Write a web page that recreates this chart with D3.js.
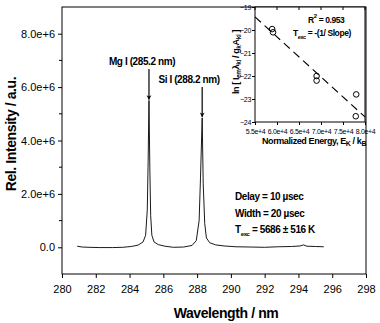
<!DOCTYPE html>
<html>
<head>
<meta charset="utf-8">
<script src="https://cdn.jsdelivr.net/npm/d3@7"></script>
<style>
  body { margin: 0; background: #fff; }
  svg { font-family: "Liberation Sans", Arial, sans-serif; }
  .lbl { font-weight: bold; letter-spacing: -0.4px; }
</style>
</head>
<body>
<svg id="chart" width="380" height="323"></svg>
<script>
// spectrum (wavelength nm, rel. intensity)
var waveNm = [280.9, 281.2, 281.6, 282.2, 283.0, 283.6, 284.1, 284.5, 284.8, 284.95, 285.05, 285.1, 285.15,
  285.2, 285.25, 285.32, 285.45, 285.7, 286.1, 286.6, 287.2, 287.7, 287.95, 288.12, 288.2, 288.3,
  288.36, 288.45, 288.55, 288.75, 289.1, 289.6, 290.3, 291.2, 292.0, 292.8, 293.6, 294.1, 294.3,
  294.5, 295.0, 295.5];
var intensity = [0.04e6, 0.01e6, 0.0, -0.01e6, -0.01e6, 0.0, 0.03e6, 0.08e6, 0.2e6, 0.45e6, 1.4e6, 3.2e6, 5.5e6,
  3.0e6, 1.2e6, 0.45e6, 0.2e6, 0.1e6, 0.04e6, 0.0, 0.01e6, 0.07e6, 0.25e6, 1.0e6, 2.6e6, 4.85e6,
  2.4e6, 0.9e6, 0.35e6, 0.17e6, 0.09e6, 0.05e6, 0.02e6, 0.01e6, 0.0, 0.02e6, 0.03e6, 0.05e6, 0.09e6,
  0.04e6, 0.03e6, 0.02e6];

var xTicks = [280, 282, 284, 286, 288, 290, 292, 294, 296, 298];
var yTicks = [0, 2e6, 4e6, 6e6, 8e6];
var yMinor = [1e6, 3e6, 5e6, 7e6];

// peak labels
var peakNames = ["Mg I (285.2 nm)", "Si I (288.2 nm)"];
var peakWave = [285.15, 288.3];
var peakTop = [5.5e6, 4.85e6];

// inset: Boltzmann plot
var energyK = [5.89e4, 5.91e4, 6.9e4, 6.9e4, 7.8e4, 7.79e4];
var lnRatio = [-19.96, -20.1, -22.0, -22.2, -22.8, -23.75];
var fitEnergy = [5.5e4, 8.0e4];
var fitLn = [-19.43, -23.78];
var insetXTicks = [5.5e4, 6.0e4, 6.5e4, 7.0e4, 7.5e4, 8.0e4];
var insetYTicks = [-24, -23, -22, -21, -20, -19];

var svg = d3.select("#chart");

var x = d3.scaleLinear().domain([280, 298]).range([62, 366]);
var y = d3.scaleLinear().domain([-1e6, 9e6]).range([274, 7]);

// frame
svg.append("rect")
  .attr("x", 62).attr("y", 7)
  .attr("width", 304).attr("height", 267)
  .attr("fill", "none").attr("stroke", "#000").attr("stroke-width", 1);

// x axis
var xAxis = svg.append("g")
  .attr("transform", "translate(0,274)")
  .call(d3.axisBottom(x).tickValues(xTicks).tickSize(4).tickSizeOuter(0).tickFormat(d3.format("d")));
xAxis.select(".domain").remove();
xAxis.selectAll("text").attr("font-size", 11).attr("dy", "1.1em").attr("font-family", "Liberation Sans");

// y axis
var yAxis = svg.append("g")
  .attr("transform", "translate(62,0)")
  .call(d3.axisLeft(y).tickValues(yTicks).tickSize(4).tickSizeOuter(0)
    .tickFormat(function (d) { return d === 0 ? "0.0" : d3.format(".1e")(d); }));
yAxis.select(".domain").remove();
yAxis.selectAll("text").attr("font-size", 11).attr("x", -7).attr("font-family", "Liberation Sans");

svg.append("g").selectAll("line")
  .data(yMinor)
  .enter()
  .append("line")
  .attr("x1", 59).attr("x2", 62)
  .attr("y1", function (d) { return y(d); })
  .attr("y2", function (d) { return y(d); })
  .attr("stroke", "#000");

// spectrum
var spec = waveNm.map(function (w, i) { return [w, intensity[i]]; });
svg.append("path")
  .datum(spec)
  .attr("fill", "none")
  .attr("stroke", "#000")
  .attr("stroke-width", 0.9)
  .attr("d", d3.line().x(function (d) { return x(d[0]); }).y(function (d) { return y(d[1]); }));

// arrows + peak labels
var defs = svg.append("defs");
defs.append("marker")
  .attr("id", "arr")
  .attr("viewBox", "0 0 10 10")
  .attr("refX", 9).attr("refY", 5)
  .attr("markerWidth", 4).attr("markerHeight", 5)
  .attr("orient", "auto")
  .append("path").attr("d", "M0,0 L10,5 L0,10 L3,5 Z").attr("fill", "#000");

var labelY = [66, 84];
peakNames.forEach(function (name, i) {
  var px = x(peakWave[i]);
  svg.append("line")
    .attr("x1", px).attr("x2", px)
    .attr("y1", labelY[i] + 3).attr("y2", y(peakTop[i]) - 1)
    .attr("stroke", "#000").attr("stroke-width", 1.2)
    .attr("marker-end", "url(#arr)");
  svg.append("text")
    .attr("class", "lbl")
    .attr("x", i == 0 ? 142 : 189)
    .attr("y", labelY[i] - 1)
    .attr("text-anchor", "middle")
    .attr("font-size", 10)
    .text(name);
});

// conditions text
var cond = svg.append("g").attr("class", "lbl").attr("font-size", 10);
cond.append("text").attr("x", 235).attr("y", 200).text("Delay = 10 \u00b5sec");
cond.append("text").attr("x", 235).attr("y", 217).text("Width = 20 \u00b5sec");
var tx = cond.append("text").attr("x", 235).attr("y", 233);
tx.append("tspan").text("T");
tx.append("tspan").attr("font-size", 6).attr("dy", 3).text("exc");
tx.append("tspan").attr("dy", -3).text(" = 5686 \u00b1 516 K");

// axis titles
svg.append("text")
  .attr("class", "lbl")
  .attr("transform", "translate(16,134) rotate(-90)")
  .attr("text-anchor", "middle")
  .attr("font-size", 14)
  .text("Rel. Intensity / a.u.");
svg.append("text")
  .attr("class", "lbl")
  .attr("x", 226).attr("y", 318)
  .attr("text-anchor", "middle")
  .attr("font-size", 14)
  .text("Wavelength / nm");

// ---------- inset ----------
var ix = d3.scaleLinear().domain([5.5e4, 8.0e4]).range([255, 365]);
var iy = d3.scaleLinear().domain([-24, -19]).range([122, 7]);

svg.append("rect")
  .attr("x", 255).attr("y", 7)
  .attr("width", 110).attr("height", 115)
  .attr("fill", "#fff").attr("stroke", "#000").attr("stroke-width", 1);

var ixAxis = svg.append("g")
  .attr("transform", "translate(0,122)")
  .call(d3.axisBottom(ix).tickValues(insetXTicks).tickSize(3).tickSizeOuter(0)
    .tickFormat(function (d) { return d3.format(".1e")(d); }));
ixAxis.select(".domain").remove();
ixAxis.selectAll("text")
  .attr("font-size", 7)
  .attr("letter-spacing", "-0.35px")
  .attr("dy", "0.9em")
  .attr("font-family", "Liberation Sans");

// top ticks of inset (inward)
svg.append("g").selectAll("line")
  .data(insetXTicks)
  .enter()
  .append("line")
  .attr("x1", function (d) { return ix(d); })
  .attr("x2", function (d) { return ix(d); })
  .attr("y1", 7).attr("y2", 10)
  .attr("stroke", "#000");

var iyAxis = svg.append("g")
  .attr("transform", "translate(255,0)")
  .call(d3.axisLeft(iy).tickValues(insetYTicks).tickSize(3).tickSizeOuter(0).tickFormat(d3.format("d")));
iyAxis.select(".domain").remove();
iyAxis.selectAll("text").attr("font-size", 7).attr("x", -4).attr("letter-spacing", "-0.3px").attr("font-family", "Liberation Sans");

// fit line
svg.append("line")
  .attr("x1", ix(fitEnergy[0])).attr("y1", iy(fitLn[0]))
  .attr("x2", ix(fitEnergy[1])).attr("y2", iy(fitLn[1]))
  .attr("stroke", "#000").attr("stroke-width", 1.1)
  .attr("stroke-dasharray", "8,5");

// points
svg.append("g").selectAll("circle")
  .data(energyK)
  .enter()
  .append("circle")
  .attr("cx", function (d) { return ix(d); })
  .attr("cy", function (d, i) { return iy(lnRatio[i]); })
  .attr("r", 2.8)
  .attr("fill", "none")
  .attr("stroke", "#000")
  .attr("stroke-width", 1);

// inset text
var r2 = svg.append("text").attr("class", "lbl").attr("x", 308).attr("y", 23).attr("font-size", 8.5);
r2.append("tspan").text("R");
r2.append("tspan").attr("font-size", 6).attr("dy", -5).text("2");
r2.append("tspan").attr("dy", 5).text(" = 0.953");

var te = svg.append("text").attr("class", "lbl").attr("x", 293).attr("y", 36).attr("font-size", 8.5);
te.append("tspan").text("T");
te.append("tspan").attr("font-size", 5.5).attr("dy", 2.5).text("exc");
te.append("tspan").attr("dy", -2.5).text(" = -(1/ Slope)");

var yl = svg.append("text")
  .attr("class", "lbl")
  .attr("transform", "translate(239,62) rotate(-90)")
  .attr("text-anchor", "middle")
  .attr("font-size", 9);
yl.append("tspan").text("ln [ I");
yl.append("tspan").attr("font-size", 6.5).attr("dy", 2).text("em");
yl.append("tspan").attr("dy", -2).text("\u03bb");
yl.append("tspan").attr("font-size", 6.5).attr("dy", 2).text("ki");
yl.append("tspan").attr("dy", -2).text(" / g");
yl.append("tspan").attr("font-size", 6.5).attr("dy", 2).text("k");
yl.append("tspan").attr("dy", -2).text("A");
yl.append("tspan").attr("font-size", 6.5).attr("dy", 2).text("ki");
yl.append("tspan").attr("dy", -2).text(" ]");

var xl = svg.append("text")
  .attr("class", "lbl")
  .attr("x", 314).attr("y", 144)
  .attr("text-anchor", "middle")
  .attr("font-size", 9);
xl.append("tspan").text("Normalized Energy, E");
xl.append("tspan").attr("font-size", 7).attr("dy", 2).text("K");
xl.append("tspan").attr("dy", -2).text(" / k");
xl.append("tspan").attr("font-size", 7).attr("dy", 2).text("B");
</script>
</body>
</html>
